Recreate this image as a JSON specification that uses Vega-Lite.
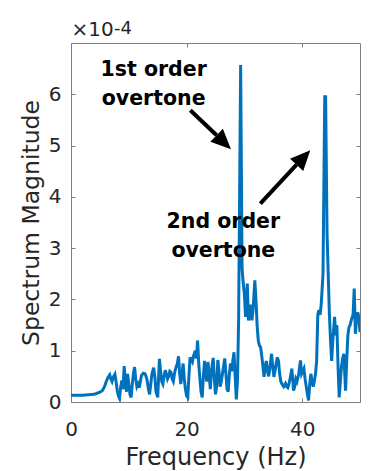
{
  "$schema": "https://vega.github.io/schema/vega-lite/v6.json",
  "width": 289,
  "height": 359,
  "autosize": {"type": "none"},
  "padding": {"left": 71, "top": 43, "right": 17, "bottom": 69},
  "background": "white",
  "config": {
    "view": {"stroke": null},
    "font": "DejaVu Sans",
    "axis": {
      "grid": false,
      "domainColor": "#808080",
      "tickColor": "#808080",
      "tickSize": -4,
      "labelColor": "#262626",
      "titleColor": "#262626",
      "labelFont": "DejaVu Sans",
      "labelFontSize": 20,
      "titleFont": "DejaVu Sans",
      "titleFontWeight": "normal"
    }
  },
  "title": {
    "text": "-4",
    "anchor": "start",
    "frame": "group",
    "baseline": "alphabetic",
    "offset": 0,
    "dx": 43,
    "dy": 32,
    "fontSize": 18,
    "fontWeight": "normal",
    "color": "#262626",
    "font": "DejaVu Sans"
  },
  "datasets": {
    "spectrum": [
      {"frequency_hz": 0.0, "magnitude_1e4": 0.13},
      {"frequency_hz": 0.5, "magnitude_1e4": 0.13},
      {"frequency_hz": 1.0, "magnitude_1e4": 0.13},
      {"frequency_hz": 1.5, "magnitude_1e4": 0.13},
      {"frequency_hz": 2.0, "magnitude_1e4": 0.13},
      {"frequency_hz": 2.5, "magnitude_1e4": 0.135},
      {"frequency_hz": 3.0, "magnitude_1e4": 0.14},
      {"frequency_hz": 3.5, "magnitude_1e4": 0.145},
      {"frequency_hz": 4.0, "magnitude_1e4": 0.15},
      {"frequency_hz": 4.5, "magnitude_1e4": 0.17},
      {"frequency_hz": 5.0, "magnitude_1e4": 0.19},
      {"frequency_hz": 5.4, "magnitude_1e4": 0.22},
      {"frequency_hz": 5.8, "magnitude_1e4": 0.3},
      {"frequency_hz": 6.1, "magnitude_1e4": 0.4},
      {"frequency_hz": 6.4, "magnitude_1e4": 0.48},
      {"frequency_hz": 6.7, "magnitude_1e4": 0.53},
      {"frequency_hz": 6.9, "magnitude_1e4": 0.45},
      {"frequency_hz": 7.1, "magnitude_1e4": 0.4},
      {"frequency_hz": 7.3, "magnitude_1e4": 0.48},
      {"frequency_hz": 7.6, "magnitude_1e4": 0.54},
      {"frequency_hz": 7.8, "magnitude_1e4": 0.4},
      {"frequency_hz": 8.0, "magnitude_1e4": 0.22},
      {"frequency_hz": 8.2, "magnitude_1e4": 0.12},
      {"frequency_hz": 8.4, "magnitude_1e4": 0.07},
      {"frequency_hz": 8.6, "magnitude_1e4": 0.3},
      {"frequency_hz": 8.8, "magnitude_1e4": 0.42},
      {"frequency_hz": 9.0, "magnitude_1e4": 0.25},
      {"frequency_hz": 9.2, "magnitude_1e4": 0.7},
      {"frequency_hz": 9.4, "magnitude_1e4": 0.4},
      {"frequency_hz": 9.6, "magnitude_1e4": 0.2},
      {"frequency_hz": 9.8, "magnitude_1e4": 0.55},
      {"frequency_hz": 10.0, "magnitude_1e4": 0.35},
      {"frequency_hz": 10.2, "magnitude_1e4": 0.15},
      {"frequency_hz": 10.4, "magnitude_1e4": 0.09},
      {"frequency_hz": 10.6, "magnitude_1e4": 0.35},
      {"frequency_hz": 10.8, "magnitude_1e4": 0.55},
      {"frequency_hz": 11.0, "magnitude_1e4": 0.68},
      {"frequency_hz": 11.2, "magnitude_1e4": 0.45},
      {"frequency_hz": 11.4, "magnitude_1e4": 0.3},
      {"frequency_hz": 11.6, "magnitude_1e4": 0.35},
      {"frequency_hz": 11.8, "magnitude_1e4": 0.28},
      {"frequency_hz": 12.0, "magnitude_1e4": 0.4},
      {"frequency_hz": 12.2, "magnitude_1e4": 0.52},
      {"frequency_hz": 12.5, "magnitude_1e4": 0.56},
      {"frequency_hz": 12.8, "magnitude_1e4": 0.55},
      {"frequency_hz": 13.0, "magnitude_1e4": 0.5},
      {"frequency_hz": 13.2, "magnitude_1e4": 0.4},
      {"frequency_hz": 13.4, "magnitude_1e4": 0.25},
      {"frequency_hz": 13.6, "magnitude_1e4": 0.15},
      {"frequency_hz": 13.8, "magnitude_1e4": 0.35},
      {"frequency_hz": 14.0, "magnitude_1e4": 0.55},
      {"frequency_hz": 14.3, "magnitude_1e4": 0.67},
      {"frequency_hz": 14.5, "magnitude_1e4": 0.5},
      {"frequency_hz": 14.7, "magnitude_1e4": 0.2},
      {"frequency_hz": 15.0, "magnitude_1e4": 0.09},
      {"frequency_hz": 15.3, "magnitude_1e4": 0.84},
      {"frequency_hz": 15.5, "magnitude_1e4": 0.6},
      {"frequency_hz": 15.7, "magnitude_1e4": 0.4},
      {"frequency_hz": 15.9, "magnitude_1e4": 0.35},
      {"frequency_hz": 16.1, "magnitude_1e4": 0.5},
      {"frequency_hz": 16.3, "magnitude_1e4": 0.62},
      {"frequency_hz": 16.5, "magnitude_1e4": 0.55},
      {"frequency_hz": 16.7, "magnitude_1e4": 0.45},
      {"frequency_hz": 16.9, "magnitude_1e4": 0.5},
      {"frequency_hz": 17.1, "magnitude_1e4": 0.6},
      {"frequency_hz": 17.3, "magnitude_1e4": 0.58},
      {"frequency_hz": 17.5, "magnitude_1e4": 0.45},
      {"frequency_hz": 17.7, "magnitude_1e4": 0.4},
      {"frequency_hz": 17.9, "magnitude_1e4": 0.55},
      {"frequency_hz": 18.1, "magnitude_1e4": 0.65},
      {"frequency_hz": 18.4, "magnitude_1e4": 0.75},
      {"frequency_hz": 18.6, "magnitude_1e4": 0.89},
      {"frequency_hz": 18.8, "magnitude_1e4": 0.55},
      {"frequency_hz": 19.0, "magnitude_1e4": 0.35},
      {"frequency_hz": 19.2, "magnitude_1e4": 0.55},
      {"frequency_hz": 19.4, "magnitude_1e4": 0.75},
      {"frequency_hz": 19.6, "magnitude_1e4": 0.45},
      {"frequency_hz": 19.8, "magnitude_1e4": 0.25},
      {"frequency_hz": 20.0, "magnitude_1e4": 0.12},
      {"frequency_hz": 20.2, "magnitude_1e4": 0.09},
      {"frequency_hz": 20.4, "magnitude_1e4": 0.5},
      {"frequency_hz": 20.6, "magnitude_1e4": 0.87},
      {"frequency_hz": 20.8, "magnitude_1e4": 0.82},
      {"frequency_hz": 21.0, "magnitude_1e4": 0.78},
      {"frequency_hz": 21.2, "magnitude_1e4": 0.9},
      {"frequency_hz": 21.5, "magnitude_1e4": 1.0},
      {"frequency_hz": 21.7, "magnitude_1e4": 0.85},
      {"frequency_hz": 21.9, "magnitude_1e4": 1.2},
      {"frequency_hz": 22.1, "magnitude_1e4": 0.75},
      {"frequency_hz": 22.3, "magnitude_1e4": 0.45},
      {"frequency_hz": 22.5, "magnitude_1e4": 0.2},
      {"frequency_hz": 22.7, "magnitude_1e4": 0.09},
      {"frequency_hz": 22.9, "magnitude_1e4": 0.5},
      {"frequency_hz": 23.1, "magnitude_1e4": 0.8},
      {"frequency_hz": 23.3, "magnitude_1e4": 0.55},
      {"frequency_hz": 23.5, "magnitude_1e4": 0.4},
      {"frequency_hz": 23.7, "magnitude_1e4": 0.78},
      {"frequency_hz": 23.9, "magnitude_1e4": 0.55},
      {"frequency_hz": 24.1, "magnitude_1e4": 0.25},
      {"frequency_hz": 24.3, "magnitude_1e4": 0.6},
      {"frequency_hz": 24.6, "magnitude_1e4": 0.86},
      {"frequency_hz": 24.8, "magnitude_1e4": 0.45},
      {"frequency_hz": 25.0, "magnitude_1e4": 0.15},
      {"frequency_hz": 25.2, "magnitude_1e4": 0.3},
      {"frequency_hz": 25.4, "magnitude_1e4": 0.82},
      {"frequency_hz": 25.6, "magnitude_1e4": 0.6},
      {"frequency_hz": 25.8, "magnitude_1e4": 0.3},
      {"frequency_hz": 26.0, "magnitude_1e4": 0.4},
      {"frequency_hz": 26.2, "magnitude_1e4": 0.55},
      {"frequency_hz": 26.4, "magnitude_1e4": 0.7},
      {"frequency_hz": 26.6, "magnitude_1e4": 0.85},
      {"frequency_hz": 26.8, "magnitude_1e4": 0.55},
      {"frequency_hz": 27.0, "magnitude_1e4": 0.25},
      {"frequency_hz": 27.2, "magnitude_1e4": 0.2},
      {"frequency_hz": 27.4, "magnitude_1e4": 0.55},
      {"frequency_hz": 27.6, "magnitude_1e4": 0.75},
      {"frequency_hz": 27.8, "magnitude_1e4": 0.6},
      {"frequency_hz": 28.0, "magnitude_1e4": 0.8},
      {"frequency_hz": 28.2, "magnitude_1e4": 0.97},
      {"frequency_hz": 28.4, "magnitude_1e4": 0.5},
      {"frequency_hz": 28.6, "magnitude_1e4": 0.05},
      {"frequency_hz": 28.8, "magnitude_1e4": 0.4},
      {"frequency_hz": 29.0, "magnitude_1e4": 1.6},
      {"frequency_hz": 29.35, "magnitude_1e4": 6.57},
      {"frequency_hz": 29.6, "magnitude_1e4": 2.6},
      {"frequency_hz": 29.8, "magnitude_1e4": 2.31},
      {"frequency_hz": 30.0, "magnitude_1e4": 2.1},
      {"frequency_hz": 30.2, "magnitude_1e4": 1.66},
      {"frequency_hz": 30.3, "magnitude_1e4": 1.9},
      {"frequency_hz": 30.5, "magnitude_1e4": 2.31},
      {"frequency_hz": 30.7, "magnitude_1e4": 1.59},
      {"frequency_hz": 30.9, "magnitude_1e4": 1.75},
      {"frequency_hz": 31.1, "magnitude_1e4": 1.9},
      {"frequency_hz": 31.3, "magnitude_1e4": 1.59},
      {"frequency_hz": 31.5, "magnitude_1e4": 1.8},
      {"frequency_hz": 31.8, "magnitude_1e4": 2.37},
      {"frequency_hz": 32.0, "magnitude_1e4": 2.0},
      {"frequency_hz": 32.2, "magnitude_1e4": 1.5},
      {"frequency_hz": 32.4, "magnitude_1e4": 1.2},
      {"frequency_hz": 32.6, "magnitude_1e4": 1.1},
      {"frequency_hz": 32.8, "magnitude_1e4": 1.07},
      {"frequency_hz": 33.0, "magnitude_1e4": 0.9},
      {"frequency_hz": 33.2, "magnitude_1e4": 0.7},
      {"frequency_hz": 33.4, "magnitude_1e4": 0.49},
      {"frequency_hz": 33.6, "magnitude_1e4": 0.7},
      {"frequency_hz": 33.8, "magnitude_1e4": 0.8},
      {"frequency_hz": 34.0, "magnitude_1e4": 0.6},
      {"frequency_hz": 34.2, "magnitude_1e4": 0.5},
      {"frequency_hz": 34.4, "magnitude_1e4": 0.65},
      {"frequency_hz": 34.7, "magnitude_1e4": 0.94},
      {"frequency_hz": 34.9, "magnitude_1e4": 0.7},
      {"frequency_hz": 35.1, "magnitude_1e4": 0.49},
      {"frequency_hz": 35.3, "magnitude_1e4": 0.6},
      {"frequency_hz": 35.5, "magnitude_1e4": 0.75},
      {"frequency_hz": 35.7, "magnitude_1e4": 0.87},
      {"frequency_hz": 35.9, "magnitude_1e4": 0.8},
      {"frequency_hz": 36.1, "magnitude_1e4": 0.55},
      {"frequency_hz": 36.3, "magnitude_1e4": 0.4},
      {"frequency_hz": 36.5, "magnitude_1e4": 0.35},
      {"frequency_hz": 36.8, "magnitude_1e4": 0.3},
      {"frequency_hz": 37.1, "magnitude_1e4": 0.36},
      {"frequency_hz": 37.3, "magnitude_1e4": 0.3},
      {"frequency_hz": 37.5, "magnitude_1e4": 0.28},
      {"frequency_hz": 37.7, "magnitude_1e4": 0.35},
      {"frequency_hz": 37.9, "magnitude_1e4": 0.45},
      {"frequency_hz": 38.2, "magnitude_1e4": 0.65},
      {"frequency_hz": 38.4, "magnitude_1e4": 0.4},
      {"frequency_hz": 38.5, "magnitude_1e4": 0.22},
      {"frequency_hz": 38.7, "magnitude_1e4": 0.3},
      {"frequency_hz": 38.9, "magnitude_1e4": 0.45},
      {"frequency_hz": 39.1, "magnitude_1e4": 0.4},
      {"frequency_hz": 39.4, "magnitude_1e4": 0.55},
      {"frequency_hz": 39.7, "magnitude_1e4": 0.81},
      {"frequency_hz": 39.9, "magnitude_1e4": 0.55},
      {"frequency_hz": 40.1, "magnitude_1e4": 0.6},
      {"frequency_hz": 40.3, "magnitude_1e4": 0.65},
      {"frequency_hz": 40.5, "magnitude_1e4": 0.45},
      {"frequency_hz": 40.7, "magnitude_1e4": 0.3},
      {"frequency_hz": 40.9, "magnitude_1e4": 0.15},
      {"frequency_hz": 41.1, "magnitude_1e4": 0.03},
      {"frequency_hz": 41.3, "magnitude_1e4": 0.35},
      {"frequency_hz": 41.5, "magnitude_1e4": 0.55},
      {"frequency_hz": 41.7, "magnitude_1e4": 0.4},
      {"frequency_hz": 41.9, "magnitude_1e4": 0.3},
      {"frequency_hz": 42.1, "magnitude_1e4": 0.4},
      {"frequency_hz": 42.3, "magnitude_1e4": 0.55},
      {"frequency_hz": 42.5, "magnitude_1e4": 0.8},
      {"frequency_hz": 42.7, "magnitude_1e4": 1.7},
      {"frequency_hz": 42.9, "magnitude_1e4": 1.79},
      {"frequency_hz": 43.1, "magnitude_1e4": 1.7},
      {"frequency_hz": 43.3, "magnitude_1e4": 1.92},
      {"frequency_hz": 43.6, "magnitude_1e4": 2.5},
      {"frequency_hz": 43.9, "magnitude_1e4": 5.95},
      {"frequency_hz": 44.05, "magnitude_1e4": 5.95},
      {"frequency_hz": 44.3, "magnitude_1e4": 3.28},
      {"frequency_hz": 44.5, "magnitude_1e4": 2.5},
      {"frequency_hz": 44.7, "magnitude_1e4": 1.72},
      {"frequency_hz": 44.9, "magnitude_1e4": 1.2},
      {"frequency_hz": 45.1, "magnitude_1e4": 0.8},
      {"frequency_hz": 45.3, "magnitude_1e4": 1.2},
      {"frequency_hz": 45.6, "magnitude_1e4": 1.66},
      {"frequency_hz": 45.8, "magnitude_1e4": 1.3},
      {"frequency_hz": 46.0, "magnitude_1e4": 1.5},
      {"frequency_hz": 46.2, "magnitude_1e4": 0.7},
      {"frequency_hz": 46.4, "magnitude_1e4": 0.09},
      {"frequency_hz": 46.6, "magnitude_1e4": 0.4},
      {"frequency_hz": 46.8, "magnitude_1e4": 0.7},
      {"frequency_hz": 47.0, "magnitude_1e4": 0.85},
      {"frequency_hz": 47.2, "magnitude_1e4": 0.94},
      {"frequency_hz": 47.5, "magnitude_1e4": 0.22},
      {"frequency_hz": 47.7, "magnitude_1e4": 0.8},
      {"frequency_hz": 47.9, "magnitude_1e4": 1.3},
      {"frequency_hz": 48.1, "magnitude_1e4": 1.46},
      {"frequency_hz": 48.3, "magnitude_1e4": 1.5},
      {"frequency_hz": 48.5, "magnitude_1e4": 1.6},
      {"frequency_hz": 48.8, "magnitude_1e4": 1.7},
      {"frequency_hz": 49.0, "magnitude_1e4": 2.21},
      {"frequency_hz": 49.2, "magnitude_1e4": 1.33},
      {"frequency_hz": 49.4, "magnitude_1e4": 1.6},
      {"frequency_hz": 49.6, "magnitude_1e4": 1.75},
      {"frequency_hz": 49.8, "magnitude_1e4": 1.66},
      {"frequency_hz": 50.0, "magnitude_1e4": 1.36}
    ],
    "labels": [
      {"x": 14.3, "y": 6.36, "label": "1st order\novertone"},
      {"x": 26.35, "y": 3.39, "label": "2nd order\novertone"}
    ],
    "arrows": [
      {"id": 1, "x_start": 20.64, "y_start": 5.69, "x_base": 25.19, "y_base": 5.2, "x_tip": 27.68, "y_tip": 4.93},
      {"id": 2, "x_start": 32.75, "y_start": 3.87, "x_base": 39.03, "y_base": 4.63, "x_tip": 41.4, "y_tip": 4.91}
    ]
  },
  "layer": [
    {
      "data": {"name": "spectrum"},
      "mark": {"type": "line", "color": "#0072BD", "strokeWidth": 3, "clip": true},
      "encoding": {
        "x": {
          "field": "frequency_hz", "type": "quantitative",
          "scale": {"domain": [0, 50], "nice": false, "zero": false},
          "axis": {"orient": "bottom", "values": [0, 20, 40], "title": "Frequency (Hz)", "titleFontSize": 24, "labelPadding": 21.5, "titlePadding": 6, "labelFlush": false}
        },
        "y": {
          "field": "magnitude_1e4", "type": "quantitative",
          "scale": {"domain": [0, 7], "nice": false},
          "axis": {"orient": "left", "values": [0, 1, 2, 3, 4, 5, 6], "title": "Spectrum Magnitude", "titleFontSize": 23.5, "labelPadding": 14, "titlePadding": 5}
        }
      }
    },
    {
      "data": {"name": "labels"},
      "mark": {"type": "text", "font": "DejaVu Sans", "fontWeight": "bold", "fontSize": 20.5, "align": "center", "baseline": "alphabetic", "lineBreak": "\n", "lineHeight": 29, "color": "black"},
      "encoding": {
        "x": {"field": "x", "type": "quantitative", "axis": {"orient": "top", "values": [0, 20, 40], "labels": false, "title": "×10", "titleAnchor": "start", "titleAlign": "left", "titleBaseline": "alphabetic", "titlePadding": 7, "titleFontSize": 20}},
        "y": {"field": "y", "type": "quantitative", "axis": {"orient": "right", "values": [0, 1, 2, 3, 4, 5, 6], "labels": false, "title": null}},
        "text": {"field": "label"}
      }
    },
    {
      "data": {"name": "arrows"},
      "mark": {"type": "rule", "strokeWidth": 4, "color": "black"},
      "encoding": {
        "x": {"field": "x_start", "type": "quantitative", "axis": null},
        "y": {"field": "y_start", "type": "quantitative", "axis": null},
        "x2": {"field": "x_base"},
        "y2": {"field": "y_base"}
      }
    },
    {
      "data": {"name": "arrows"},
      "mark": {"type": "point", "shape": "M0,0 L0.9,2 L-0.9,2 Z", "filled": true, "size": 400, "color": "black", "opacity": 1, "strokeWidth": 0},
      "encoding": {
        "x": {"field": "x_tip", "type": "quantitative", "axis": null},
        "y": {"field": "y_tip", "type": "quantitative", "axis": null},
        "angle": {"condition": {"test": "datum.id == 1", "value": 134}, "value": 43}
      }
    }
  ],
  "resolve": {"axis": {"x": "independent", "y": "independent"}}
}
